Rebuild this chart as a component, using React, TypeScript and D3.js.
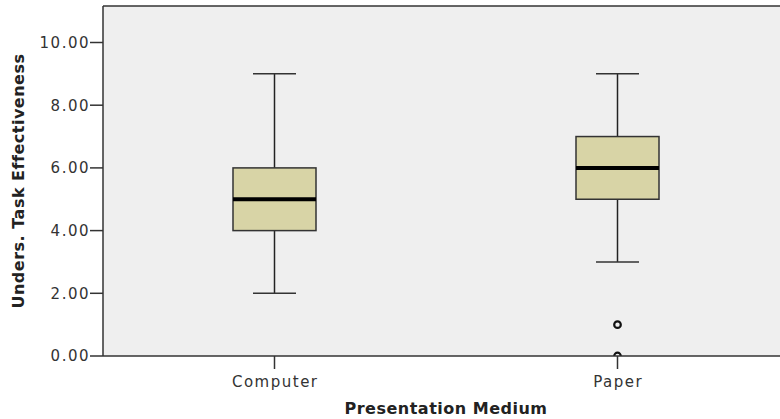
import React from "react";
import * as d3 from "d3";

const categories = ["Computer", "Paper"];
const mins = [2, 3];
const q1s = [4, 5];
const medians = [5, 6];
const q3s = [6, 7];
const maxs = [9, 9];
const outliers: [string, number][] = [["Paper", 1], ["Paper", 0]];
const yTicks = [0, 2, 4, 6, 8, 10];

export default function App() {
  const W = 780, H = 419;
  const left = 103, top = 6, bottom = 356, right = 789;
  const y = d3.scaleLinear().domain([0, 10]).range([bottom, 42.5]);
  const x2 = d3.scalePoint().domain(categories).range([left, right]).padding(0.5);
  const bw = 83;
  const cw = 43;
  const font = "'DejaVu Sans', sans-serif";
  return (
    <svg width={W} height={H} style={{ position: "absolute", left: 0, top: 0 }}>
      <defs>
        <clipPath id="pc"><rect x={left} y={top} width={right - left} height={bottom - top} /></clipPath>
      </defs>
      <rect x={left} y={top} width={right - left} height={bottom - top} fill="#efefef" />
      <g clipPath="url(#pc)">
        {categories.map((c, i) => {
          const cx = x2(c)!;
          return (
            <g key={c}>
              <line x1={cx} x2={cx} y1={y(maxs[i])} y2={y(q3s[i])} stroke="#222" strokeWidth={1.5} />
              <line x1={cx} x2={cx} y1={y(q1s[i])} y2={y(mins[i])} stroke="#222" strokeWidth={1.5} />
              <line x1={cx - cw / 2} x2={cx + cw / 2} y1={y(maxs[i])} y2={y(maxs[i])} stroke="#333" strokeWidth={1.5} />
              <line x1={cx - cw / 2} x2={cx + cw / 2} y1={y(mins[i])} y2={y(mins[i])} stroke="#333" strokeWidth={1.5} />
              <rect x={cx - bw / 2} y={y(q3s[i])} width={bw} height={y(q1s[i]) - y(q3s[i])} fill="#d8d4a6" stroke="#333" strokeWidth={1.5} />
              <line x1={cx - bw / 2} x2={cx + bw / 2} y1={y(medians[i])} y2={y(medians[i])} stroke="#000" strokeWidth={4} />
            </g>
          );
        })}
        {outliers.map(([c, v], k) => (
          <circle key={k} cx={x2(c)!} cy={y(v)} r={3.3} fill="none" stroke="#111" strokeWidth={2.2} />
        ))}
      </g>
      <line x1={left} x2={right} y1={top} y2={top} stroke="#333" strokeWidth={1.5} />
      <line x1={left} x2={left} y1={top} y2={bottom} stroke="#333" strokeWidth={1.5} />
      <line x1={left} x2={right} y1={bottom} y2={bottom} stroke="#333" strokeWidth={1.5} />
      {yTicks.map((t) => (
        <g key={t}>
          <line x1={left - 13} x2={left} y1={y(t)} y2={y(t)} stroke="#333" strokeWidth={1.5} />
          <text x={left - 13} y={y(t)} dy="0.36em" textAnchor="end" fontFamily={font} fontSize={15} letterSpacing={1.5} fill="#333">
            {d3.format(".2f")(t)}
          </text>
        </g>
      ))}
      {categories.map((c) => (
        <g key={c}>
          <line x1={x2(c)!} x2={x2(c)!} y1={bottom} y2={bottom + 13} stroke="#333" strokeWidth={1.5} />
          <text x={x2(c)! + 0.75} y={387} textAnchor="middle" fontFamily={font} fontSize={15} letterSpacing={1.5} fill="#333">{c}</text>
        </g>
      ))}
      <text x={(left + right) / 2} y={414} textAnchor="middle" fontFamily={font} fontSize={16} letterSpacing={0.5} fontWeight="bold" fill="#222">
        Presentation Medium
      </text>
      <text transform={`translate(24, ${(bottom + 6) / 2}) rotate(-90)`} textAnchor="middle" fontFamily={font} fontSize={16} letterSpacing={0.5} fontWeight="bold" fill="#222">
        Unders. Task Effectiveness
      </text>
    </svg>
  );
}
